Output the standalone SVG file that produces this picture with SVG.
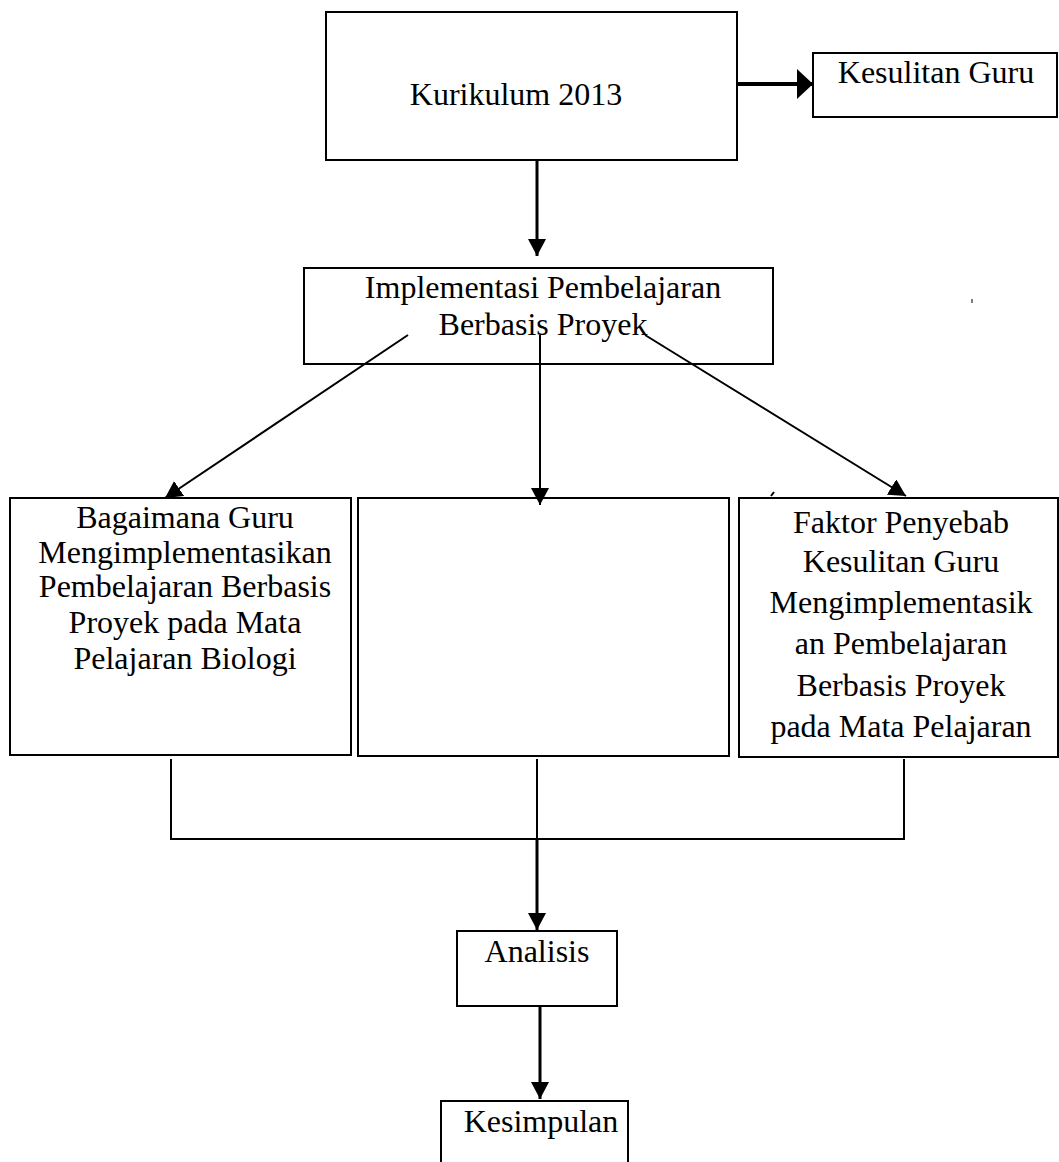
<svg xmlns="http://www.w3.org/2000/svg" width="1059" height="1162" viewBox="0 0 1059 1162">
<defs>
<style>
.box{fill:#fff;stroke:#000;stroke-width:2}
.t{font-family:"Liberation Serif","Times New Roman",serif;font-size:32px;fill:#000;text-anchor:middle}
.c{stroke:#000;stroke-width:2;fill:none}
</style>
<marker id="ah" markerUnits="userSpaceOnUse" markerWidth="17" markerHeight="18" refX="17" refY="9" orient="auto">
<path d="M0,0 L17,9 L0,18 z" fill="#000"/>
</marker>
<marker id="ahBig" markerUnits="userSpaceOnUse" markerWidth="16" markerHeight="30" refX="16" refY="15" orient="auto">
<path d="M0,0 L16,15 L0,30 z" fill="#000"/>
</marker>
</defs>
<rect width="1059" height="1162" fill="#fff"/>

<g id="kurikulum">
<rect class="box" x="326" y="12" width="411" height="148"/>
<text class="t" x="516" y="105">Kurikulum 2013</text>
</g>

<g id="kesulitan-guru">
<rect class="box" x="813" y="53" width="244" height="64"/>
<text class="t" x="936" y="83">Kesulitan Guru</text>
</g>

<g id="implementasi">
<rect class="box" x="304" y="268" width="469" height="96"/>
<text class="t" x="543" y="298">Implementasi Pembelajaran</text>
<text class="t" x="543" y="335">Berbasis Proyek</text>
</g>

<g id="bagaimana">
<rect class="box" x="10" y="498" width="341" height="257"/>
<text class="t" x="185" y="528">Bagaimana Guru</text>
<text class="t" x="185" y="563">Mengimplementasikan</text>
<text class="t" x="185" y="597">Pembelajaran Berbasis</text>
<text class="t" x="185" y="633">Proyek pada Mata</text>
<text class="t" x="185" y="669">Pelajaran Biologi</text>
</g>

<g id="tengah">
<rect class="box" x="358" y="498" width="371" height="258"/>
</g>

<g id="faktor">
<rect class="box" x="739" y="498" width="319" height="259"/>
<text class="t" x="901" y="533">Faktor Penyebab</text>
<text class="t" x="901" y="572">Kesulitan Guru</text>
<text class="t" x="901" y="613">Mengimplementasik</text>
<text class="t" x="901" y="654">an Pembelajaran</text>
<text class="t" x="901" y="696">Berbasis Proyek</text>
<text class="t" x="901" y="737">pada Mata Pelajaran</text>
</g>

<g id="analisis">
<rect class="box" x="457" y="931" width="160" height="75"/>
<text class="t" x="537" y="962">Analisis</text>
</g>

<g id="kesimpulan">
<rect class="box" x="441" y="1101" width="187" height="80"/>
<text class="t" x="541" y="1132">Kesimpulan</text>
</g>

<g id="connectors">
<line class="c" x1="737" y1="84" x2="813" y2="84" style="stroke-width:4" marker-end="url(#ahBig)"/>
<line class="c" x1="537" y1="161" x2="537" y2="256" style="stroke-width:3" marker-end="url(#ah)"/>
<line class="c" x1="408" y1="335" x2="165" y2="498" marker-end="url(#ah)"/>
<line class="c" x1="540" y1="335" x2="540" y2="505" marker-end="url(#ah)"/>
<line class="c" x1="645" y1="335" x2="906" y2="496" marker-end="url(#ah)"/>
<path class="c" d="M771,496 L774,492"/>
<polyline class="c" points="171,759 171,839 904,839 904,759"/>
<line class="c" x1="537" y1="759" x2="537" y2="839"/>
<line class="c" x1="537" y1="839" x2="537" y2="930" style="stroke-width:3" marker-end="url(#ah)"/>
<line class="c" x1="540" y1="1007" x2="540" y2="1099" style="stroke-width:3" marker-end="url(#ah)"/>
<line x1="972" y1="299" x2="972" y2="303" stroke="#000" stroke-width="1"/>
</g>
</svg>
